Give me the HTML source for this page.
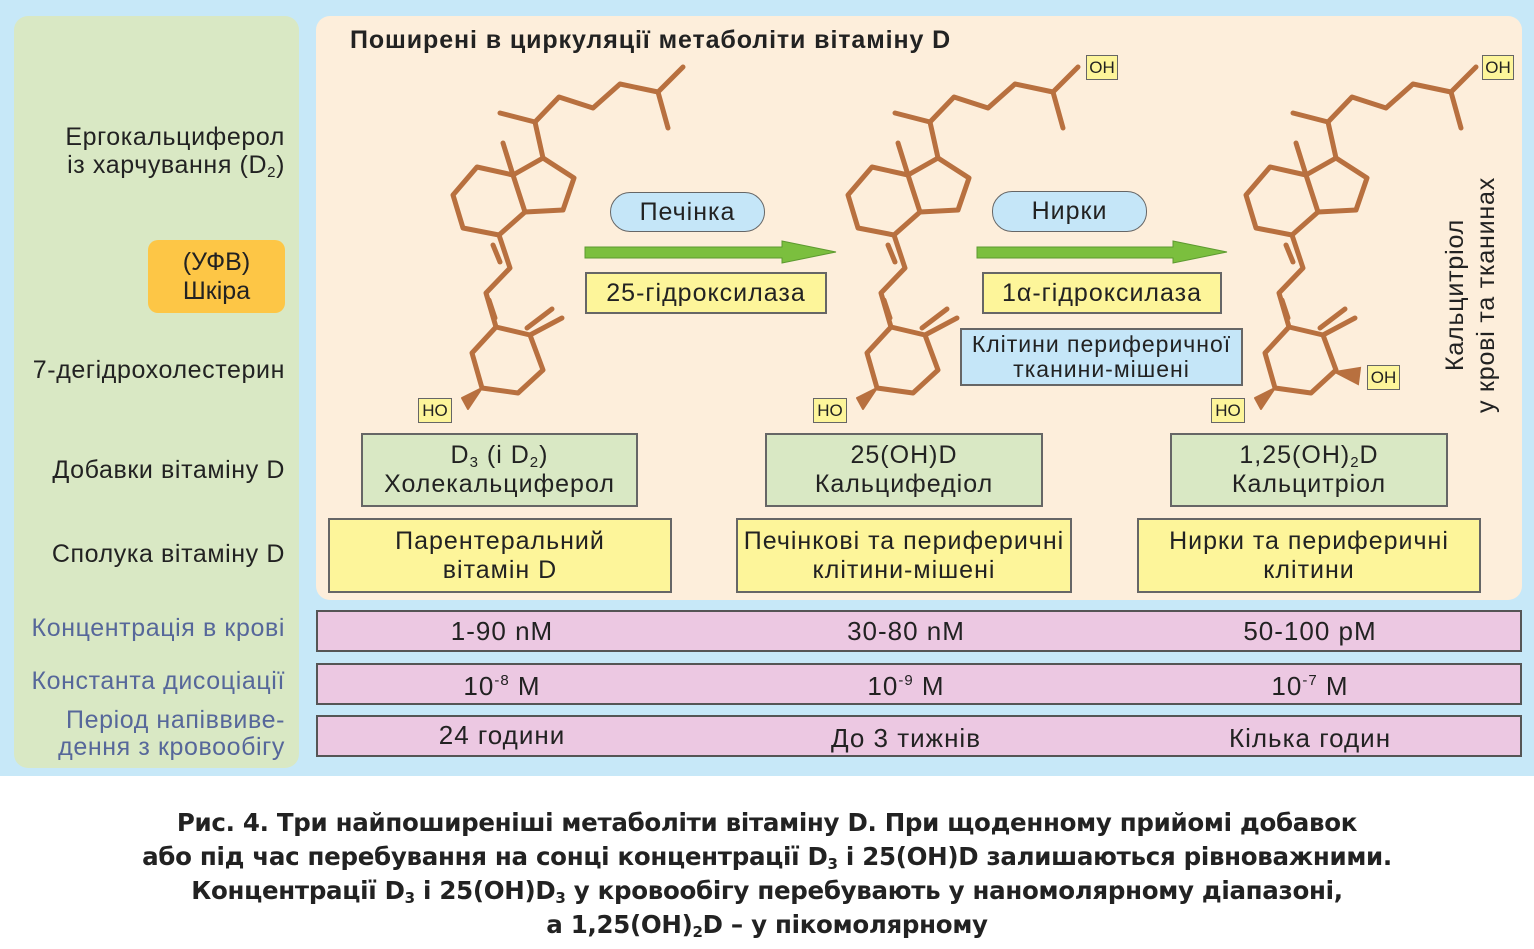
<!DOCTYPE html>
<html><head><meta charset="utf-8"><style>
*{margin:0;padding:0;box-sizing:border-box}
body{width:1534px;height:949px;background:#fff;position:relative;font-family:"Liberation Sans",sans-serif;color:#222;overflow:hidden}
.a{position:absolute}
.box{position:absolute;border:2px solid #666;display:flex;align-items:center;justify-content:center;text-align:center;font-size:25px;line-height:29px;letter-spacing:1px}
.lbl{position:absolute;right:1249px;text-align:right;font-size:25px;line-height:27px;white-space:nowrap;letter-spacing:0.6px}
.blue{color:#56679a}
.pink{background:#ecc8e2;border:2px solid #555;position:absolute;left:316px;width:1206px;height:42px;font-size:26px;letter-spacing:1px}
.pink span{position:absolute;top:4px;transform:translateX(-50%);white-space:nowrap}
.cap{position:absolute;left:0;width:1534px;text-align:center;font-weight:bold;font-size:24.5px;line-height:34px;top:806px;color:#222;font-family:"DejaVu Sans",sans-serif;letter-spacing:-0.3px}
sub{font-size:15px;vertical-align:-4px;line-height:0}
sup{font-size:15px;vertical-align:10px;line-height:0}
</style></head><body>
<div class="a" style="left:0;top:0;width:1534px;height:776px;background:#c7e8f8"></div>
<div class="a" style="left:14px;top:16px;width:285px;height:752px;background:#d9e8c4;border-radius:14px"></div>
<div class="a" style="left:316px;top:16px;width:1206px;height:584px;background:#fdeedb;border-radius:14px"></div>

<div class="lbl" style="top:123px;line-height:28px">Ергокальциферол<br>із харчування (D<sub>2</sub>)</div>
<div class="a" style="left:148px;top:240px;width:137px;height:73px;background:#fdc646;border-radius:10px;text-align:center;font-size:25px;line-height:29px;padding-top:8px">(УФВ)<br>Шкіра</div>
<div class="lbl" style="top:357px">7-дегідрохолестерин</div>
<div class="lbl" style="top:457px">Добавки вітаміну D</div>
<div class="lbl" style="top:541px">Сполука вітаміну D</div>
<div class="lbl blue" style="top:615px">Концентрація в крові</div>
<div class="lbl blue" style="top:668px">Константа дисоціації</div>
<div class="lbl blue" style="top:707px;line-height:27px">Період напіввиве-<br>дення з кровообігу</div>

<div class="a" style="left:350px;top:26px;font-size:25px;font-weight:bold;letter-spacing:0.9px;white-space:nowrap">Поширені в циркуляції метаболіти вітаміну D</div>

<svg class="a" style="left:0;top:0" width="1534" height="600">
<defs>
<g id="mol" stroke="#b8703f" stroke-width="5" fill="none" stroke-linejoin="round" stroke-linecap="round">
<polyline points="500,113 535,122 559,97 593,108 620,84 658,92 683,67"/>
<line x1="658" y1="92" x2="668" y2="128"/>
<line x1="535" y1="122" x2="543" y2="158"/>
<polygon points="543,158 574,178 563,210 525,212 513,175"/>
<line x1="513" y1="175" x2="503" y2="143"/>
<polyline points="513,175 477,167 453,195 463,228 499,235 525,212"/>
<polyline points="499,235 510,268 486,293 496,327"/>
<line x1="493" y1="245" x2="500" y2="262"/>
<line x1="489" y1="300" x2="495" y2="318"/>
<polygon points="496,327 530,335 543,370 518,393 482,388 472,353"/>
<line x1="530" y1="335" x2="562" y2="318"/>
<line x1="527" y1="328" x2="552" y2="309"/>
<polygon points="482,388 462,398 468,409" fill="#b8703f" stroke-width="2"/>
</g>
</defs>
<use href="#mol"/>
<use href="#mol" transform="translate(395,0)"/>
<use href="#mol" transform="translate(793,0)"/>
<polygon points="1335,372 1360,368 1358,384" fill="#b8703f" stroke="#b8703f" stroke-width="2"/>
<polygon points="585,247 782,247 782,241 836,252 782,263 782,258 585,258" fill="#7bbf3e" stroke="#5d9a30" stroke-width="1"/>
<polygon points="977,247 1173,247 1173,241 1227,252 1173,263 1173,258 977,258" fill="#7bbf3e" stroke="#5d9a30" stroke-width="1"/>
</svg>

<div class="box" style="left:418px;top:398px;width:34px;height:25px;background:#fdf59a;border-width:1px;font-size:17px;letter-spacing:0">HO</div>
<div class="box" style="left:813px;top:398px;width:34px;height:25px;background:#fdf59a;border-width:1px;font-size:17px;letter-spacing:0">HO</div>
<div class="box" style="left:1211px;top:398px;width:34px;height:25px;background:#fdf59a;border-width:1px;font-size:17px;letter-spacing:0">HO</div>
<div class="box" style="left:1086px;top:55px;width:32px;height:25px;background:#fdf59a;border-width:1px;font-size:17px;letter-spacing:0">OH</div>
<div class="box" style="left:1482px;top:55px;width:32px;height:25px;background:#fdf59a;border-width:1px;font-size:17px;letter-spacing:0">OH</div>
<div class="box" style="left:1367px;top:365px;width:33px;height:25px;background:#fdf59a;border-width:1px;font-size:17px;letter-spacing:0">OH</div>

<div class="box" style="left:610px;top:192px;width:155px;height:40px;background:#c5e6f8;border-radius:20px;border-width:1.5px"><div>Печінка</div></div>
<div class="box" style="left:992px;top:191px;width:155px;height:41px;background:#c5e6f8;border-radius:20px;border-width:1.5px"><div>Нирки</div></div>
<div class="box" style="left:585px;top:272px;width:242px;height:42px;background:#fdf59a"><div>25-гідроксилаза</div></div>
<div class="box" style="left:982px;top:272px;width:240px;height:42px;background:#fdf59a"><div>1α-гідроксилаза</div></div>
<div class="box" style="left:960px;top:328px;width:283px;height:58px;background:#c5e6f8;font-size:23px;line-height:25px"><div>Клітини периферичної<br>тканини-мішені</div></div>

<div class="box" style="left:361px;top:433px;width:277px;height:74px;background:#d9e8c4"><div>D<sub>3</sub> (і D<sub>2</sub>)<br>Холекальциферол</div></div>
<div class="box" style="left:765px;top:433px;width:278px;height:74px;background:#d9e8c4"><div>25(OH)D<br>Кальцифедіол</div></div>
<div class="box" style="left:1170px;top:433px;width:278px;height:74px;background:#d9e8c4"><div>1,25(OH)<sub>2</sub>D<br>Кальцитріол</div></div>
<div class="box" style="left:328px;top:518px;width:344px;height:75px;background:#fdf59a"><div>Парентеральний<br>вітамін D</div></div>
<div class="box" style="left:736px;top:518px;width:336px;height:75px;background:#fdf59a"><div>Печінкові та периферичні<br>клітини-мішені</div></div>
<div class="box" style="left:1137px;top:518px;width:344px;height:75px;background:#fdf59a"><div>Нирки та периферичні<br>клітини</div></div>

<div class="a" style="left:1471px;top:295px;transform:translate(-50%,-50%) rotate(-90deg);font-size:25px;line-height:31px;text-align:center;white-space:nowrap;letter-spacing:0.8px">Кальцитріол<br>у крові та тканинах</div>

<div class="pink" style="top:610px"><span style="left:184px">1-90 nM</span><span style="left:588px">30-80 nM</span><span style="left:992px">50-100 pM</span></div>
<div class="pink" style="top:663px"><span style="left:184px;top:6px">10<sup>-8</sup> M</span><span style="left:588px;top:6px">10<sup>-9</sup> M</span><span style="left:992px;top:6px">10<sup>-7</sup> M</span></div>
<div class="pink" style="top:715px"><span style="left:184px;top:3px">24 години</span><span style="left:588px;top:6px">До 3 тижнів</span><span style="left:992px;top:6px">Кілька годин</span></div>

<div class="cap">Рис. 4. Три найпоширеніші метаболіти вітаміну D. При щоденному прийомі добавок<br>або під час перебування на сонці концентрації D<sub>3</sub> і 25(OH)D залишаються рівноважними.<br>Концентрації D<sub>3</sub> і 25(OH)D<sub>3</sub> у кровообігу перебувають у наномолярному діапазоні,<br>а 1,25(OH)<sub>2</sub>D – у пікомолярному</div>
</body></html>
